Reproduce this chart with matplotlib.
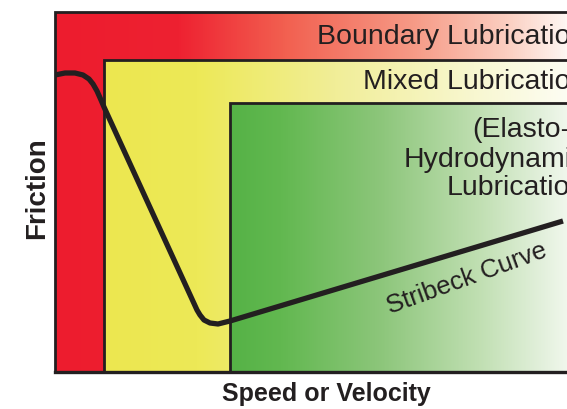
import numpy as np
import matplotlib.pyplot as plt
from matplotlib.colors import LinearSegmentedColormap

# regimes: start speed, top friction, gradient stops (position along region, colour)
regime_start = [0, 49, 175]
regime_top = [360, 312, 269]
regime_colors = [
    [(0.0, "#ED1C2E"), (0.24, "#EE2131"), (0.45, "#F26050"), (0.7, "#F69A86"), (0.88, "#FBCDBF"), (1.0, "#FEF6F2")],
    [(0.0, "#ECE750"), (0.2, "#EDE957"), (0.5, "#F1EE98"), (0.8, "#F8F7D0"), (1.0, "#FDFDF3")],
    [(0.0, "#55B246"), (0.15, "#62B850"), (0.45, "#8DC67B"), (0.75, "#C2E0B4"), (1.0, "#F0F7EC")],
]

# regime labels (text lines, right end, baseline)
label_lines = ["Boundary Lubrication", "Mixed Lubrication", "(Elasto-)", "Hydrodynamic", "Lubrication"]
label_right = [531, 531, 525, 531, 531]
label_base = [328, 283, 235, 205, 177]

# stribeck curve (speed, friction)
speed = [0, 10, 20, 28, 34, 38, 42, 46, 49, 142, 145, 149, 155, 163, 175, 508]
friction = [297, 299, 299, 297, 293, 288, 281, 272, 265, 62, 57, 52, 49, 48, 51, 151]

xmax, ymax = 512, 360
ink = "#231F20"

fig = plt.figure(figsize=(5.67, 4.09), dpi=100)
ax = fig.add_axes([55 / 567, 37 / 409, 512 / 567, 360 / 409])
ax.set_xlim(0, xmax)
ax.set_ylim(0, ymax)

for x0, top, stops in zip(regime_start, regime_top, regime_colors):
    cmap = LinearSegmentedColormap.from_list("g", stops)
    grad = np.linspace(0, 1, 256)[None, :]
    ax.imshow(grad, cmap=cmap, extent=[x0, xmax, 0, top], aspect="auto", zorder=1)
    ax.plot([x0, x0, xmax + 5], [0, top, top], color=ink, lw=2, zorder=2, clip_on=False,
            solid_joinstyle="miter")

ax.plot([0, xmax + 5], [0, 0], color=ink, lw=2.4, zorder=2, clip_on=False)

ax.plot(speed, friction, color=ink, lw=3.8, zorder=3, solid_capstyle="butt",
        solid_joinstyle="round")

for line, xr, yb in zip(label_lines, label_right, label_base):
    ax.text(xr, yb, line, fontsize=20.5, color=ink, family="Liberation Sans", ha="right",
            va="baseline", zorder=4, clip_on=False)

ax.text(412, 93, "Stribeck Curve", rotation=20, fontsize=18.5, color=ink, family="Liberation Sans",
        ha="center", va="center", zorder=4)

ax.set_xticks([])
ax.set_yticks([])
for s in ax.spines.values():
    s.set_visible(False)

fig.text(37.5 / 567, 1 - 188 / 409, "Friction", rotation=90, fontsize=20, fontweight="bold",
         family="Liberation Sans", color=ink, ha="center", va="center")
fig.text(326 / 567, 1 - 394 / 409, "Speed or Velocity", fontsize=18, fontweight="bold",
         family="Liberation Sans", color=ink, ha="center", va="center")

fig.savefig("out.png", dpi=100)
